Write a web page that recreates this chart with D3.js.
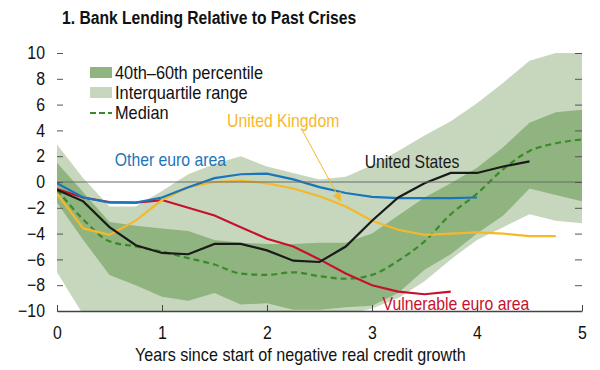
<!DOCTYPE html>
<html>
<head>
<meta charset="utf-8">
<script src="https://cdn.jsdelivr.net/npm/d3@7"></script>
<style>
  body { margin: 0; background: #fff; }
  text { font-family: "Liberation Sans", Arial, sans-serif; }
</style>
</head>
<body>
<div id="chart"></div>
<script>
// quarters since start of negative real credit growth
const quarters = [0, 0.25, 0.5, 0.75, 1, 1.25, 1.5, 1.75, 2, 2.25, 2.5, 2.75, 3, 3.25, 3.5, 3.75, 4, 4.25, 4.5, 4.75, 5];

// distribution of past crises
const iqrUpper = [2.9, 0.3, -1.9, -1.9, -0.7, 0.6, 1.4, 2.0, 1.2, 0.7, 0.2, 0.4, 1.3, 2.4, 3.6, 4.7, 6.1, 7.7, 9.4, 10, 10];
const iqrLower = [-7.0, -10.3, -10.3, -10.3, -10.3, -10.3, -10.3, -10.3, -10.3, -10.3, -10.3, -10.3, -9.8, -9.0, -7.7, -6.0, -4.5, -3.5, -2.5, -3.0, -3.2];
const p60 = [1.5, -0.8, -3.1, -3.4, -3.6, -3.8, -4.5, -4.7, -4.8, -4.8, -4.7, -4.7, -4.0, -2.6, -1.2, -0.1, 1.1, 2.7, 4.6, 5.4, 5.6];
const p40 = [-1.6, -4.5, -7.2, -8.0, -8.9, -9.2, -8.6, -9.5, -9.4, -9.9, -9.9, -9.7, -9.6, -8.6, -6.8, -5.6, -4.0, -2.6, -0.5, -1.0, -1.5];
const median = [-0.6, -2.9, -4.6, -5.0, -5.4, -5.9, -6.4, -7.1, -7.2, -7.0, -7.3, -7.5, -7.2, -6.1, -4.6, -2.5, -0.9, 1.0, 2.4, 3.0, 3.3];

// countries (shorter series stop early)
const otherEuro = [-0.1, -1.2, -1.6, -1.6, -1.2, -0.4, 0.3, 0.6, 0.65, 0.2, -0.4, -0.85, -1.15, -1.25, -1.25, -1.25, -1.2];
const unitedKingdom = [-0.9, -3.6, -4.1, -3.0, -1.4, -0.4, 0.0, 0.1, -0.1, -0.5, -1.1, -1.9, -3.0, -3.7, -4.1, -4.0, -3.9, -4.0, -4.2, -4.2];
const unitedStates = [-0.6, -1.5, -3.5, -4.9, -5.5, -5.6, -4.8, -4.8, -5.3, -6.1, -6.2, -5.0, -3.0, -1.2, -0.1, 0.7, 0.7, 1.2, 1.6];
const vulnerableEuro = [-0.55, -1.2, -1.55, -1.6, -1.4, -2.0, -2.6, -3.5, -4.4, -5.0, -6.0, -7.1, -8.0, -8.5, -8.7, -8.5];

const yTicks = [-10, -8, -6, -4, -2, 0, 2, 4, 6, 8, 10];
const xTicks = [0, 1, 2, 3, 4, 5];

const margin = {top: 53, right: 18, bottom: 59, left: 57},
width = 600 - margin.left - margin.right,
height = 370 - margin.top - margin.bottom;

// squeeze text to the condensed width of the original typeface
function condense(sel, factor) {
  sel.each(function() {
    const w = this.getComputedTextLength();
    d3.select(this).attr("textLength", w * factor).attr("lengthAdjust", "spacingAndGlyphs");
  });
}

const root = d3.select("#chart")
.append("svg")
.attr("width", 600)
.attr("height", 370);

const svg = root.append("g")
.attr("transform", `translate(${margin.left},${margin.top})`);

const x = d3.scaleLinear().domain([0, 5]).range([0, width]);
const y = d3.scaleLinear().domain([-10, 10]).range([height, 0]);

svg.append("clipPath").attr("id", "plotclip")
.append("rect").attr("width", width).attr("height", height);

const plot = svg.append("g").attr("clip-path", "url(#plotclip)");

// bands
const band = (lo, hi) => d3.area()
.x((d, i) => x(quarters[i]))
.y0((d, i) => y(lo[i]))
.y1((d, i) => y(hi[i]));

plot.append("path")
.attr("d", band(iqrLower, iqrUpper)(quarters))
.attr("fill", "#c6d7bd");

plot.append("path")
.attr("d", band(p40, p60)(quarters))
.attr("fill", "#8fb47f");

// zero line
svg.append("line")
.attr("x1", 0).attr("x2", width)
.attr("y1", y(0)).attr("y2", y(0))
.attr("stroke", "#6b6b6b").attr("stroke-width", 1);

const line = d3.line().x((d, i) => x(quarters[i])).y(d => y(d));

plot.append("path")
.attr("d", line.curve(d3.curveMonotoneX)(median))
.attr("fill", "none").attr("stroke", "#3a8a2a")
.attr("stroke-width", 2.2).attr("stroke-dasharray", "6,4");

line.curve(d3.curveLinear);

const series = [
  {values: vulnerableEuro, color: "#c8102e"},
  {values: unitedKingdom, color: "#f6b82b"},
  {values: otherEuro, color: "#1b75bc"},
  {values: unitedStates, color: "#1a1a1a"}
];

plot.selectAll(".country")
.data(series)
.join("path")
.attr("class", "country")
.attr("d", d => line(d.values))
.attr("fill", "none")
.attr("stroke", d => d.color)
.attr("stroke-width", 2.2);

// axes
const yLeft = svg.append("g")
.call(d3.axisLeft(y).tickValues(yTicks).tickSize(-6).tickPadding(12).tickFormat(d => d < 0 ? "\u2212" + Math.abs(d) : d));
yLeft.select(".domain").remove();
yLeft.selectAll("line").attr("stroke", "#555");
yLeft.selectAll("text").attr("font-size", 18).attr("fill", "#111");

const yRight = svg.append("g")
.attr("transform", `translate(${width},0)`)
.call(d3.axisRight(y).tickValues(yTicks).tickSize(-7).tickFormat(""));
yRight.select(".domain").remove();
yRight.selectAll("line").attr("stroke", "#555");

const xAxis = svg.append("g")
.attr("transform", `translate(0,${height})`)
.call(d3.axisBottom(x).tickValues(xTicks).tickSize(-6).tickPadding(15).tickSizeOuter(0).tickFormat(d3.format("d")));
xAxis.select(".domain").attr("stroke", "#444").attr("stroke-width", 1.5);
xAxis.selectAll("line").attr("stroke", "#444");
xAxis.selectAll("text").attr("font-size", 18).attr("fill", "#111");
svg.selectAll("g").attr("font-family", null);
condense(svg.selectAll(".tick text"), 0.88);

// axis title
root.append("text")
.attr("x", 135).attr("y", 361)
.attr("font-size", 19).attr("fill", "#111")
.text("Years since start of negative real credit growth")
.call(condense, 0.85);

// chart title
root.append("text")
.attr("x", 62).attr("y", 24)
.attr("font-size", 18).attr("font-weight", "bold").attr("fill", "#111")
.text("1. Bank Lending Relative to Past Crises")
.call(condense, 0.87);

// legend
const legend = root.append("g").attr("transform", "translate(90,0)");
legend.append("rect").attr("x", 0).attr("y", 67).attr("width", 22).attr("height", 11).attr("fill", "#8fb47f");
legend.append("rect").attr("x", 0).attr("y", 87).attr("width", 22).attr("height", 11).attr("fill", "#c6d7bd");
legend.append("line").attr("x1", 0).attr("x2", 22).attr("y1", 113).attr("y2", 113)
.attr("stroke", "#3a8a2a").attr("stroke-width", 2.2).attr("stroke-dasharray", "6,3");
const legendLabels = ["40th\u201360th percentile", "Interquartile range", "Median"];
legend.selectAll(".lbl")
.data(legendLabels)
.join("text")
.attr("class", "lbl")
.attr("x", 25).attr("y", (d, i) => 79 + i * 20)
.attr("font-size", 19).attr("fill", "#111")
.text(d => d)
.call(condense, 0.86);

// country labels
const labels = [
  {text: "United Kingdom", t: 1.62, v: 4.25, color: "#f6b82b"},
  {text: "Other euro area", t: 0.55, v: 1.25, color: "#1b75bc"},
  {text: "United States", t: 2.93, v: 1.05, color: "#1a1a1a"},
  {text: "Vulnerable euro area", t: 3.1, v: -9.9, color: "#c8102e"}
];
svg.selectAll(".clbl")
.data(labels)
.join("text")
.attr("class", "clbl")
.attr("x", d => x(d.t)).attr("y", d => y(d.v))
.attr("font-size", 19).attr("fill", d => d.color)
.text(d => d.text)
.call(condense, 0.83);

// UK arrow
root.append("defs").append("marker")
.attr("id", "arrow").attr("viewBox", "0 0 10 10")
.attr("refX", 9).attr("refY", 5)
.attr("markerWidth", 9).attr("markerHeight", 9)
.attr("markerUnits", "userSpaceOnUse")
.attr("orient", "auto")
.append("path").attr("d", "M0,0L10,5L0,10z").attr("fill", "#f6b82b");

svg.append("line")
.attr("x1", x(2.33)).attr("y1", y(4.1))
.attr("x2", x(2.70)).attr("y2", y(-1.45))
.attr("stroke", "#f6b82b").attr("stroke-width", 1)
.attr("marker-end", "url(#arrow)");
</script>
</body>
</html>
